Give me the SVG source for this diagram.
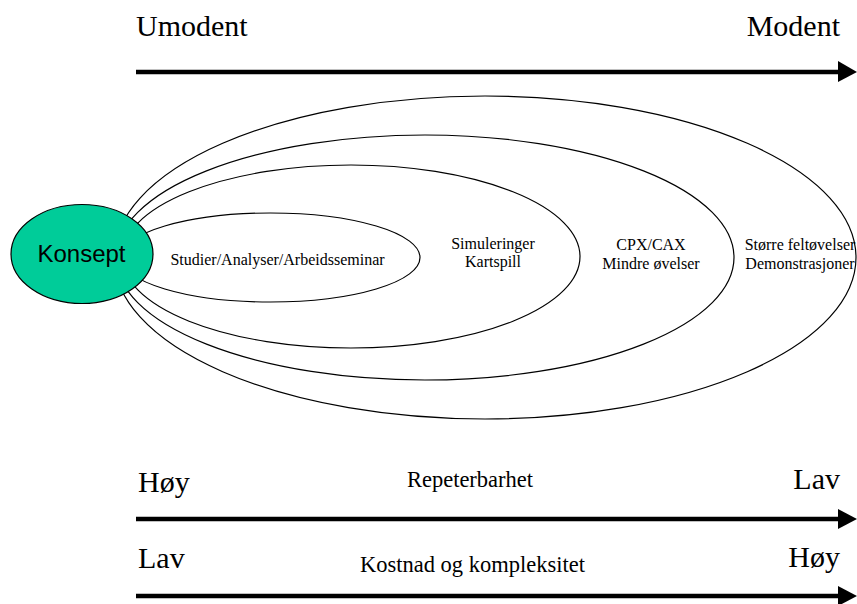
<svg xmlns="http://www.w3.org/2000/svg" width="857" height="604" viewBox="0 0 857 604">
  <defs>
    <style>
      .ring { fill: none; stroke: #000; stroke-width: 1.2; }
      .axis { stroke: #000; stroke-width: 4.5; fill: none; }
      .head { fill: #000; }
      .big { font-family: "Liberation Serif", "Times New Roman", serif; font-size: 30px; fill: #000; }
      .mid { font-family: "Liberation Serif", "Times New Roman", serif; font-size: 22.5px; fill: #000; text-anchor: middle; }
      .small { font-family: "Liberation Serif", "Times New Roman", serif; font-size: 16px; fill: #000; text-anchor: middle; }
      .node-label { font-family: "Liberation Sans", Arial, sans-serif; font-size: 24px; fill: #000; text-anchor: middle; }
    </style>
  </defs>
  <rect width="857" height="604" fill="#fff"/>

  <!-- Scale arrows -->
  <g id="connectors">
    <line class="axis" x1="136" y1="72" x2="841" y2="72"/>
    <polygon class="head" points="838,61 857,72 838,82"/>
    <line class="axis" x1="136" y1="519" x2="841" y2="519"/>
    <polygon class="head" points="838,509 857,519 838,529"/>
    <line class="axis" x1="136" y1="596" x2="841" y2="596"/>
    <polygon class="head" points="838,586 857,596 838,606"/>
  </g>

  <!-- Axis labels -->
  <g id="axis-labels">
    <text class="big" x="136" y="36">Umodent</text>
    <text class="big" x="840" y="36" text-anchor="end">Modent</text>
    <text class="big" x="138" y="492">Høy</text>
    <text class="big" x="840" y="489" text-anchor="end">Lav</text>
    <text class="mid" x="470" y="487">Repeterbarhet</text>
    <text class="big" x="138" y="568">Lav</text>
    <text class="big" x="840" y="567" text-anchor="end">Høy</text>
    <text class="mid" x="472.5" y="572">Kostnad og kompleksitet</text>
  </g>

  <!-- Nested activity rings, outermost first -->
  <g id="ring-field">
    <ellipse class="ring" cx="485" cy="257.5" rx="371" ry="161.5"/>
    <text class="small" x="800" y="250">Større feltøvelser</text>
    <text class="small" x="800" y="269">Demonstrasjoner</text>
  </g>
  <g id="ring-cpx">
    <ellipse class="ring" cx="425" cy="257.5" rx="309" ry="122.5"/>
    <text class="small" x="651" y="250">CPX/CAX</text>
    <text class="small" x="651" y="269">Mindre øvelser</text>
  </g>
  <g id="ring-sim">
    <ellipse class="ring" cx="351" cy="256.5" rx="229" ry="91.5"/>
    <text class="small" x="493" y="249">Simuleringer</text>
    <text class="small" x="493" y="267">Kartspill</text>
  </g>
  <g id="ring-studies">
    <ellipse class="ring" cx="270.5" cy="257.5" rx="149.5" ry="44.5"/>
    <text class="small" x="277.5" y="265">Studier/Analyser/Arbeidsseminar</text>
  </g>

  <!-- Concept node -->
  <g id="konsept">
    <ellipse cx="82" cy="254" rx="71" ry="49.5" fill="#00CC99" stroke="#000" stroke-width="1.2"/>
    <text class="node-label" x="81.5" y="262">Konsept</text>
  </g>
</svg>
